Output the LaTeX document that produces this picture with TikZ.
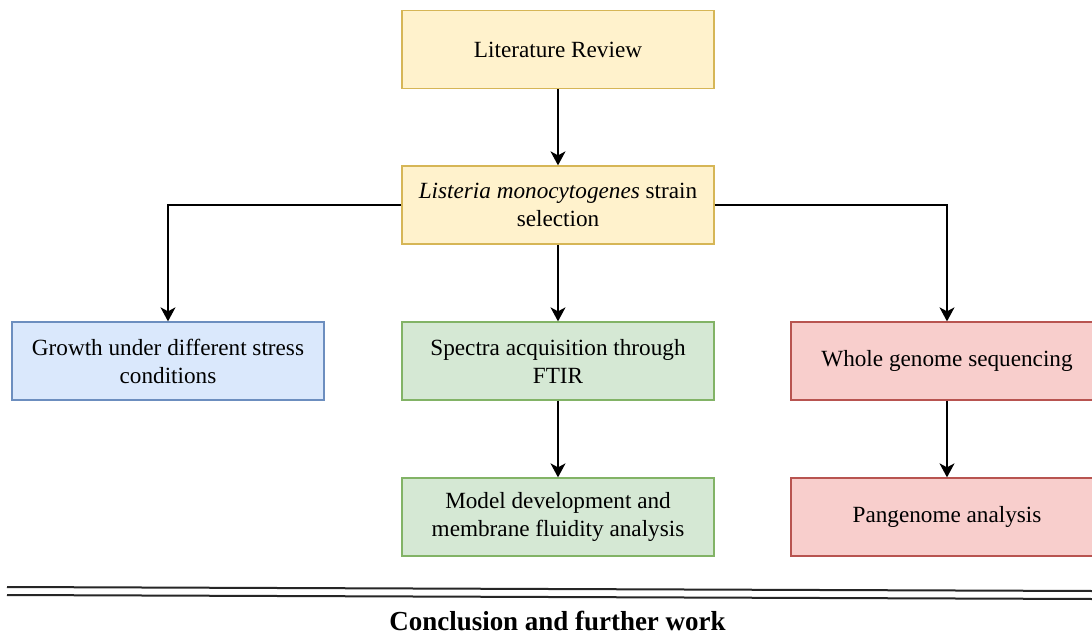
\documentclass[tikz,border=0pt]{standalone}
\usepackage{fontspec}
\setmainfont{Liberation Serif}
\usetikzlibrary{arrows.meta}
\definecolor{ylwfill}{HTML}{FFF2CC}\definecolor{ylwline}{HTML}{D6B656}
\definecolor{blufill}{HTML}{DAE8FC}\definecolor{bluline}{HTML}{6C8EBF}
\definecolor{grnfill}{HTML}{D5E8D4}\definecolor{grnline}{HTML}{82B366}
\definecolor{redfill}{HTML}{F8CECC}\definecolor{redline}{HTML}{B85450}
\tikzset{
  box/.style={draw, line width=1.3pt, minimum width=312pt, minimum height=78pt,
    inner sep=0pt, align=center, font=\fontsize{23.2}{28}\selectfont},
  ylw/.style={box, fill=ylwfill, draw=ylwline},
  blu/.style={box, fill=blufill, draw=bluline},
  grn/.style={box, fill=grnfill, draw=grnline},
  red/.style={box, fill=redfill, draw=redline},
  conn/.style={line width=1.4pt, -{Stealth[length=14pt,width=15pt,inset=4pt]}},
  rule/.style={line width=2pt, black!85},
}
\begin{document}
\begin{tikzpicture}[x=1pt,y=-1pt]
\useasboundingbox[fill=white] (0,0) rectangle (1092,636);
\node[ylw] (lit) at (558,49.5) {\raisebox{-1.5pt}{Literature Review}};
\node[ylw] (sel) at (558,205) {\textit{Listeria monocytogenes} strain\\selection};
\node[blu] (gro) at (168,361) {Growth under different stress\\conditions};
\node[grn] (spe) at (558,361) {Spectra acquisition through\\FTIR};
\node[grn] (mod) at (558,517) {Model development and\\membrane fluidity analysis};
\node[red] (wgs) at (947,361) {\raisebox{-1.5pt}{Whole genome sequencing}};
\node[red] (pan) at (947,517) {\raisebox{-1.5pt}{Pangenome analysis}};
\draw[conn] (lit) -- (sel);
\draw[conn] (sel) -- (spe);
\draw[conn] (sel.west) -| (gro.north);
\draw[conn] (sel.east) -| (wgs.north);
\draw[conn] (spe) -- (mod);
\draw[conn] (wgs) -- (pan);
\coordinate (r1a) at (7,587); \coordinate (r1b) at (1092,591);
\coordinate (r2a) at (7,595); \coordinate (r2b) at (1092,599);
\draw[rule] (r1a) -- (r1b);
\draw[rule] (r2a) -- (r2b);
\node[anchor=base, inner sep=0pt, font=\fontsize{27.5}{32}\selectfont\bfseries\addfontfeatures{FakeStretch=0.98}] (con) at (557.5,630.5) {Conclusion and further work};
\end{tikzpicture}
\end{document}
